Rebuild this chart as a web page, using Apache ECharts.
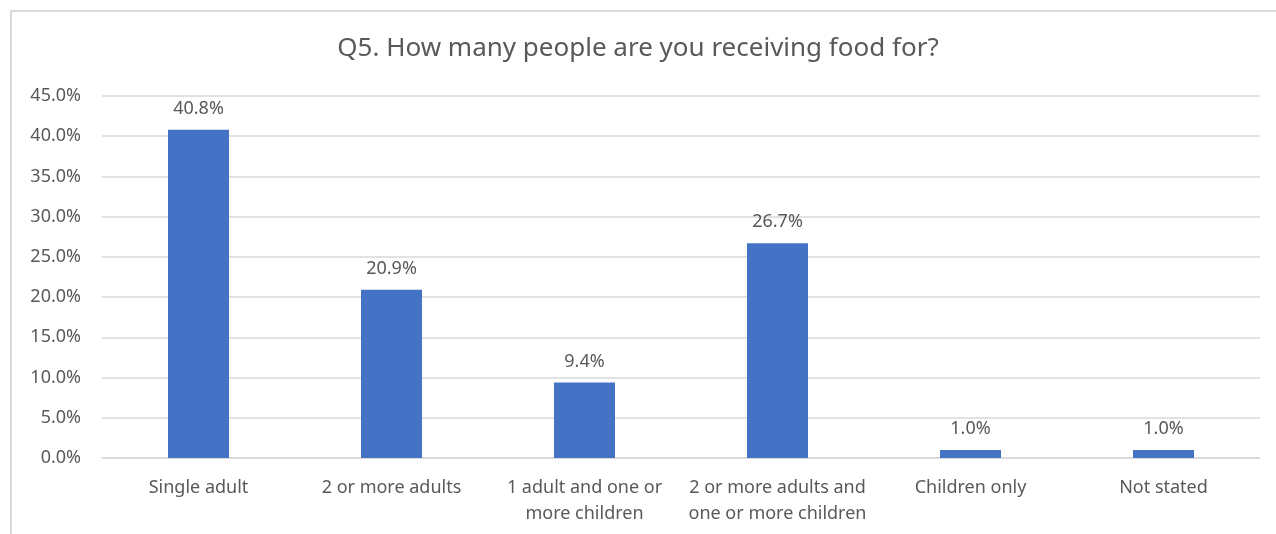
<!DOCTYPE html>
<html>
<head>
<meta charset="utf-8">
<script src="https://cdn.jsdelivr.net/npm/echarts@6/dist/echarts.min.js"></script>
<style>
  html, body { margin: 0; padding: 0; background: #fff; }
  #chart { width: 1276px; height: 534px; }
</style>
</head>
<body>
<div id="chart"></div>
<script>
// Household size of food recipients (share of responses, %)
const categories = [
  'Single adult',
  '2 or more adults',
  '1 adult and one or\nmore children',
  '2 or more adults and\none or more children',
  'Children only',
  'Not stated'
];
const shares = [40.8, 20.9, 9.4, 26.7, 1.0, 1.0];
const yTicks = { min: 0, max: 45, step: 5 };

const FONT = 'Noto Sans';
const TEXT = '#595959';

const chart = echarts.init(document.getElementById('chart'), null, { renderer: 'canvas' });
chart.setOption({
  animation: false,
  backgroundColor: '#ffffff',
  title: {
    text: 'Q5. How many people are you receiving food for?',
    left: 'center',
    top: 31,
    textStyle: { fontFamily: FONT, fontSize: 26, fontWeight: 'normal', color: TEXT }
  },
  graphic: [{
    type: 'polyline',
    shape: { points: [[11, 534], [11, 11], [1276, 11]] },
    style: { stroke: '#d9d9d9', lineWidth: 2, fill: null },
    silent: true
  }],
  grid: { left: 102, right: 16, top: 96, bottom: 76 },
  xAxis: {
    type: 'category',
    data: categories,
    axisLine: { show: true, lineStyle: { color: '#d9d9d9', width: 1.5 } },
    axisTick: { show: false },
    axisLabel: {
      interval: 0,
      margin: 17,
      fontFamily: FONT,
      fontSize: 18,
      lineHeight: 26,
      color: TEXT
    }
  },
  yAxis: {
    type: 'value',
    min: yTicks.min,
    max: yTicks.max,
    interval: yTicks.step,
    axisLine: { show: false },
    axisTick: { show: false },
    splitLine: { lineStyle: { color: '#d9d9d9', width: 1.5 } },
    axisLabel: {
      margin: 21,
      fontFamily: FONT,
      fontSize: 18,
      color: TEXT,
      formatter: v => v.toFixed(1) + '%'
    }
  },
  series: [{
    type: 'bar',
    data: shares,
    barWidth: '31.6%',
    itemStyle: { color: '#4472C4' },
    label: {
      show: true,
      position: 'top',
      distance: 12,
      fontFamily: FONT,
      fontSize: 18,
      color: TEXT,
      formatter: p => p.value.toFixed(1) + '%'
    }
  }]
});
</script>
</body>
</html>
